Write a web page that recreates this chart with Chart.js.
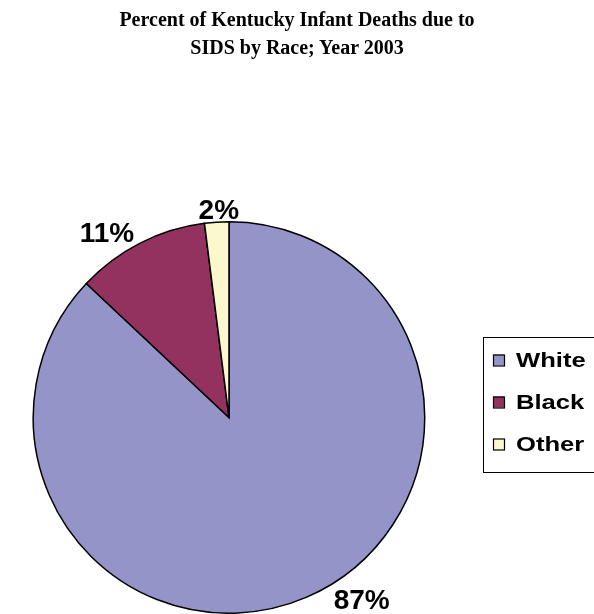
<!DOCTYPE html>
<html>
<head>
<meta charset="utf-8">
<script src="https://cdn.jsdelivr.net/npm/chart.js@4.4.1/dist/chart.umd.min.js"></script>
<style>
  html, body { margin: 0; padding: 0; background: #fff; }
  #wrap { position: relative; width: 594px; height: 614px; overflow: hidden; }
  #title {
    position: absolute; left: 0; top: 5px; width: 594px; text-align: center;
    font: bold 20px "Liberation Serif", "Times New Roman", serif; line-height: 28px; color: #000;
  }
  canvas { position: absolute; left: 0; top: 0; }
</style>
</head>
<body>
<div id="wrap">
  <canvas id="pie" width="594" height="614"></canvas>
  <div id="title">Percent of Kentucky Infant Deaths due to<br>SIDS by Race; Year 2003</div>
</div>
<script>
const categories = ['White', 'Black', 'Other'];
const percents = [87, 11, 2];
const colors = ['#9494C8', '#93325E', '#FCF8CE'];

// label nudges around the slice mid-angle (degrees) and distance outside the rim
const labelShift = [-12.8, -6.4, 0.8];
const labelGap = [29, 26, 13];

const pieLabels = {
  id: 'pieLabels',
  afterDatasetsDraw(chart) {
    const ctx = chart.ctx;
    const arcs = chart.getDatasetMeta(0).data;
    ctx.save();
    ctx.font = 'bold 28px "Liberation Sans", Arial, sans-serif';
    ctx.fillStyle = '#000';
    ctx.textAlign = 'center';
    ctx.textBaseline = 'middle';
    arcs.forEach((arc, i) => {
      const p = arc.getProps(['x', 'y', 'startAngle', 'endAngle', 'outerRadius'], true);
      const mid = (p.startAngle + p.endAngle) / 2 + labelShift[i] * Math.PI / 180;
      const r = p.outerRadius + labelGap[i];
      ctx.fillText(percents[i] + '%', p.x + Math.cos(mid) * r, p.y + Math.sin(mid) * r + 2);
    });
    ctx.restore();
  }
};

const boxLegend = {
  id: 'boxLegend',
  afterDraw(chart) {
    const ctx = chart.ctx;
    const x0 = 483.5, y0 = 337.5, w = 160, h = 135;
    ctx.save();
    ctx.strokeStyle = '#000';
    ctx.lineWidth = 1;
    ctx.strokeRect(x0, y0, w, h);
    ctx.font = 'bold 21px "Liberation Sans", Arial, sans-serif';
    ctx.textBaseline = 'middle';
    categories.forEach((c, i) => {
      const y = 360.5 + i * 42;
      ctx.fillStyle = colors[i];
      ctx.fillRect(493, y - 6, 11, 11);
      ctx.lineWidth = 1.2;
      ctx.strokeRect(493.5, y - 5.5, 11, 11);
      ctx.fillStyle = '#000';
      ctx.save();
      ctx.translate(516, y + 1);
      ctx.scale(1.22, 1);
      ctx.fillText(c, 0, 0);
      ctx.restore();
    });
    ctx.restore();
  }
};

new Chart(document.getElementById('pie'), {
  type: 'pie',
  data: {
    labels: categories,
    datasets: [{
      data: percents,
      backgroundColor: colors,
      borderColor: '#000',
      borderWidth: 1.5,
      borderJoinStyle: 'miter'
    }]
  },
  options: {
    responsive: false,
    animation: false,
    layout: { padding: { left: 32, right: 168, top: 221, bottom: -1 } },
    plugins: {
      legend: { display: false },
      tooltip: { enabled: false },
      title: { display: false }
    }
  },
  plugins: [pieLabels, boxLegend]
});
</script>
</body>
</html>
